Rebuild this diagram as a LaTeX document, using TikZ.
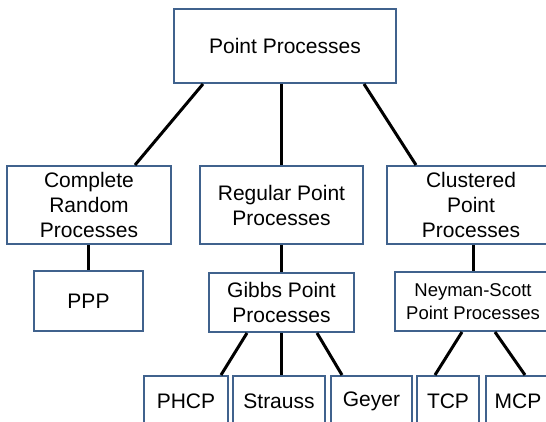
\documentclass[tikz,border=0pt]{standalone}
\usepackage{fontspec}
\setmainfont{Liberation Sans}
\usetikzlibrary{calc}
\definecolor{boxblue}{RGB}{64,98,141}
\tikzset{
  pbox/.style={draw=boxblue, line width=2pt, fill=white, align=center, inner sep=0pt,
    font=\fontsize{21}{25}\selectfont},
  sbox/.style={pbox, font=\fontsize{18.5}{23}\selectfont},
  conn/.style={line width=3pt, black}
}
\begin{document}
\begin{tikzpicture}[x=1pt, y=-1pt]
\clip (0,0) rectangle (546,421);
\fill[white] (0,0) rectangle (546,421);
% level 1
\node[pbox, minimum width=222pt, minimum height=74pt] (top) at (285,46) {Point Processes};
% level 2
\node[pbox, minimum width=164pt, minimum height=78pt] (crp) at (89,205) {Complete\\Random\\Processes};
\node[pbox, minimum width=163pt, minimum height=78pt] (rpp) at (281.5,205) {Regular Point\\Processes};
\node[pbox, minimum width=168pt, minimum height=78pt] (cpp) at (471,205) {Clustered\\Point\\Processes};
% level 3
\node[pbox, minimum width=109pt, minimum height=60pt] (ppp) at (88.5,301) {PPP};
\node[pbox, minimum width=145pt, minimum height=59pt] (gibbs) at (281.5,302.5) {Gibbs Point\\Processes};
\node[sbox, minimum width=156pt, minimum height=59pt] (ns) at (473,301.5) {Neyman-Scott\\Point Processes};
% level 4
\node[pbox, minimum width=84pt, minimum height=50pt] (phcp) at (186,401) {PHCP};
\node[pbox, minimum width=92pt, minimum height=50pt] (strauss) at (279,401) {Strauss};
\node[pbox, minimum width=81pt, minimum height=50pt] (geyer) at (371.5,401) {Geyer};
\node[pbox, minimum width=62pt, minimum height=50pt] (tcp) at (448,401) {TCP};
\node[pbox, minimum width=64pt, minimum height=50pt] (mcp) at (518,401) {MCP};
% connectors
\draw[conn] ($(top.south)+(-82,0)$) -- ($(crp.north)+(46,0)$);
\draw[conn] (top.south -| rpp.north) -- (rpp.north);
\draw[conn] ($(top.south)+(79,0)$) -- ($(cpp.north)+(-55,0)$);
\draw[conn] (crp.south -| ppp.north) -- (ppp.north);
\draw[conn] (rpp.south) -- (gibbs.north);
\draw[conn] (cpp.south -| ns.north) -- (ns.north);
\draw[conn] ($(gibbs.south)+(-34.5,0)$) -- ($(phcp.north)+(35,0)$);
\draw[conn] (gibbs.south) -- (gibbs.south |- strauss.north);
\draw[conn] ($(gibbs.south)+(35.5,0)$) -- ($(geyer.north)+(-29.5,0)$);
\draw[conn] ($(ns.south)+(-11,0)$) -- ($(tcp.north)+(-13,0)$);
\draw[conn] ($(ns.south)+(22,0)$) -- ($(mcp.north)+(7,0)$);
\end{tikzpicture}
\end{document}
